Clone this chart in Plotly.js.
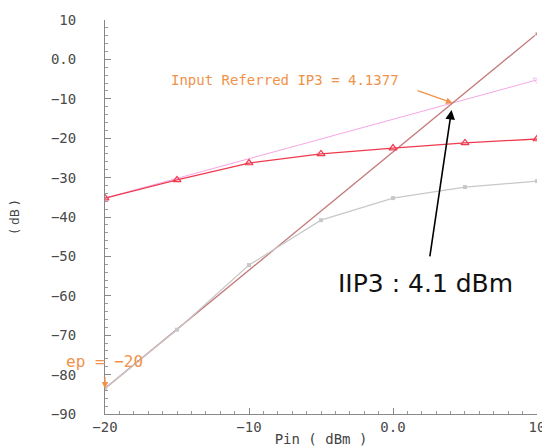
<!DOCTYPE html>
<html>
<head>
<meta charset="utf-8">
<script src="https://cdn.plot.ly/plotly-3.0.1.min.js"></script>
<style>
  html, body { margin: 0; padding: 0; background: #fff; }
  #chart { width: 542px; height: 447px; }
</style>
</head>
<body>
<div id="chart"></div>
<script>
// Input power sweep (dBm)
const pin = [-20, -15, -10, -5, 0, 5, 10];

// Fundamental output and third-order intermod output (dB)
const fundamental = [-35.2, -30.6, -26.3, -24.0, -22.5, -21.2, -20.2];
const im3 = [-83.5, -68.6, -52.2, -40.8, -35.2, -32.4, -30.9];

// Extrapolated slope-1 and slope-3 lines, end points
const extX = [-20, 10];
const fundExt = [-35.2, -5.2];
const im3Ext = [-83.5, 6.5];

// Intercept point
const ip3In = 4.1377;
const ip3Out = -11.06;

// Axis ticks
const xTickVals = [-20, -10, 0, 10];
const xTickText = ['\u221220', '\u221210', '0.0', '10'];
const yTickVals = [10, 0, -10, -20, -30, -40, -50, -60, -70, -80, -90];
const yTickText = ['10', '0.0', '\u221210', '\u221220', '\u221230', '\u221240',
                   '\u221250', '\u221260', '\u221270', '\u221280', '\u221290'];

const orange = '#f0924a';
const tickFont = { family: 'DejaVu Sans Mono', size: 14, color: '#4a4a4a' };

const traces = [
  {
    x: extX, y: fundExt, type: 'scatter', mode: 'lines+markers',
    line: { color: '#f4a6e4', width: 1 },
    marker: { symbol: 'triangle-down-open', size: [0, 7], color: '#f4a6e4' },
    hoverinfo: 'skip'
  },
  {
    x: extX, y: im3Ext, type: 'scatter', mode: 'lines+markers',
    line: { color: '#c47a7a', width: 1.3 },
    marker: { symbol: 'square', size: [0, 4], color: '#c47a7a' },
    hoverinfo: 'skip'
  },
  {
    x: pin, y: im3, type: 'scatter', mode: 'lines+markers',
    line: { color: '#c8c8c8', width: 1.2 },
    marker: { symbol: 'square', size: 4, color: '#c8c8c8' }
  },
  {
    x: pin, y: fundamental, type: 'scatter', mode: 'lines+markers',
    line: { color: '#ee3a4e', width: 1.3 },
    marker: { symbol: 'triangle-up-open', size: 7, color: '#ee3a4e', line: { width: 1.2 } }
  }
];

const layout = {
  width: 542, height: 447,
  margin: { l: 105, r: 5, t: 20, b: 33 },
  paper_bgcolor: '#ffffff', plot_bgcolor: '#ffffff',
  showlegend: false,
  font: { family: 'DejaVu Sans Mono', size: 12, color: '#444' },
  xaxis: {
    range: [-20, 10.0005], showgrid: false, zeroline: false,
    showline: true, linecolor: '#888', linewidth: 1,
    ticks: 'inside', ticklen: 6, tickcolor: '#888',
    tickvals: xTickVals, ticktext: xTickText,
    minor: { dtick: 1, ticks: 'inside', ticklen: 3, tickcolor: '#999' },
    tickfont: tickFont,
    ticklabeloverflow: 'allow',
    title: { text: 'Pin ( dBm )', standoff: 0,
             font: { family: 'DejaVu Sans Mono', size: 14, color: '#444' } }
  },
  yaxis: {
    range: [-90, 10.0005], showgrid: false, zeroline: false,
    showline: true, linecolor: '#888', linewidth: 1,
    ticks: 'inside', ticklen: 6, tickcolor: '#888',
    tickvals: yTickVals, ticktext: yTickText,
    minor: { dtick: 2, ticks: 'inside', ticklen: 3, tickcolor: '#999' },
    ticklabelstandoff: 25,
    tickfont: tickFont,
    title: { text: '( dB )', standoff: 28,
             font: { family: 'DejaVu Sans', size: 12, color: '#444' } }
  },
  annotations: [
    {
      x: -20, y: 10, xref: 'x', yref: 'y', showarrow: false,
      text: 'Input Referred IP3 = 4.1377', xanchor: 'left', yanchor: 'middle',
      xshift: 64, yshift: -60,
      font: { family: 'DejaVu Sans Mono', size: 14, color: orange }
    },
    {
      x: ip3In, y: ip3Out, xref: 'x', yref: 'y', text: ' ',
      showarrow: true, arrowhead: 2, arrowsize: 1, arrowwidth: 1.3,
      arrowcolor: orange, ax: -40, ay: -14, standoff: 0
    },
    {
      x: -20, y: -83.5, xref: 'x', yref: 'y', text: ' ',
      showarrow: true, arrowhead: 2, arrowsize: 1, arrowwidth: 1.3,
      arrowcolor: orange, ax: 0, ay: -20, standoff: 0
    },
    {
      x: -20, y: -83.5, xref: 'x', yref: 'y', showarrow: false,
      text: 'ep = \u221220', xanchor: 'center', yanchor: 'middle',
      xshift: -1, yshift: 27,
      font: { family: 'DejaVu Sans Mono', size: 16, color: orange }
    },
    {
      x: ip3In, y: ip3Out, xref: 'x', yref: 'y', text: ' ',
      showarrow: true, arrowhead: 2, arrowsize: 1.2, arrowwidth: 1.6,
      arrowcolor: '#000', ax: -24, ay: 162, standoff: 7
    },
    {
      x: ip3In, y: ip3Out, xref: 'x', yref: 'y', showarrow: false,
      text: 'IIP3 : 4.1 dBm', xanchor: 'center', yanchor: 'middle',
      xshift: -27, yshift: -181,
      font: { family: 'DejaVu Sans', size: 25, color: '#111' }
    }
  ]
};

Plotly.newPlot('chart', traces, layout, { displayModeBar: false, staticPlot: true });
</script>
</body>
</html>
